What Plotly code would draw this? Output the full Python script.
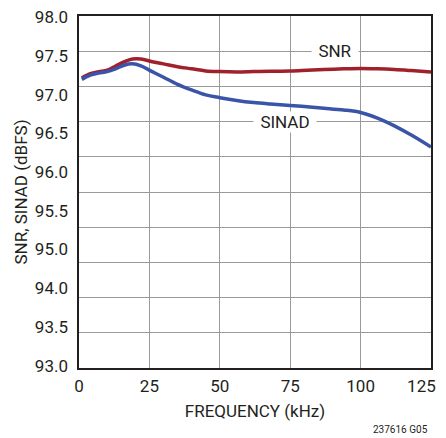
import plotly.graph_objects as go

freq_khz = [1, 4, 7, 10, 13, 16, 19, 22, 26, 30, 35, 40, 45, 50, 56, 62, 68, 75, 81, 87, 94, 100, 106, 112, 118, 125]
snr_dbfs = [97.12, 97.18, 97.21, 97.23, 97.29, 97.35, 97.39, 97.39, 97.35, 97.32, 97.28, 97.25, 97.22, 97.21,
            97.205, 97.21, 97.215, 97.22, 97.23, 97.24, 97.25, 97.255, 97.25, 97.24, 97.225, 97.205]
sinad_dbfs = [97.10, 97.16, 97.19, 97.21, 97.25, 97.30, 97.32, 97.29, 97.21, 97.13, 97.03, 96.95, 96.88, 96.84,
              96.80, 96.77, 96.75, 96.73, 96.71, 96.69, 96.665, 96.63, 96.55, 96.44, 96.31, 96.14]
x_ticks = [0, 25, 50, 75, 100, 125]
x_tick_labels = ["0", "25", "50", "75", "100", "125\u2007\u2007"]
y_grid = [93.0, 93.5, 94.0, 94.5, 95.0, 95.5, 96.0, 96.5, 97.0, 97.5, 98.0]
y_tick_labels = ["93.0", "93.5", "94.0", "95.0", "95.5", "96.0", "96.5", "97.0", "97.5", "98.0"]

FONT = "Roboto, Liberation Sans, sans-serif"
TXT = "#231f20"

fig = go.Figure()
fig.add_trace(go.Scatter(x=freq_khz, y=snr_dbfs, mode="lines", line=dict(color="#a0212b", width=3.5, shape="spline"),
                         showlegend=False, hoverinfo="skip"))
fig.add_trace(go.Scatter(x=freq_khz, y=sinad_dbfs, mode="lines", line=dict(color="#3a54a8", width=3.5, shape="spline"),
                         showlegend=False, hoverinfo="skip"))
# invisible trace to carry the printed y tick labels
fig.add_trace(go.Scatter(x=[None], y=[None], yaxis="y2", showlegend=False, hoverinfo="skip"))

fig.add_annotation(x=91, y=97.5, text="SNR", showarrow=False, bgcolor="white", width=44, height=18,
                   font=dict(family=FONT, size=17, color=TXT))
fig.add_annotation(x=73, y=96.5, text="SINAD", showarrow=False, bgcolor="white", width=60, height=18,
                   font=dict(family=FONT, size=17, color=TXT))
fig.add_annotation(x=1, y=0, xref="paper", yref="paper", xanchor="right", yanchor="middle", yshift=-61, xshift=-1,
                   text="237616 G05", showarrow=False, font=dict(family=FONT, size=10, color=TXT))

# the page body adds an 8px margin, so the figure is sized/offset for the 446x438 window
fig.update_layout(
    width=438, height=430,
    margin=dict(l=71, r=15, t=8, b=70, autoexpand=False),
    paper_bgcolor="white", plot_bgcolor="white",
    font=dict(family=FONT, size=17, color=TXT),
    xaxis=dict(range=[0, 125], tickvals=x_ticks, ticktext=x_tick_labels, showgrid=True, gridcolor="#9a9a9a",
               gridwidth=1.2, showline=True, linecolor="#231f20", linewidth=1.8, mirror=True, ticks="",
               zeroline=False, automargin=False, ticklabelstandoff=2, ticklabeloverflow="allow",
               title=dict(text="FREQUENCY (kHz)", font=dict(size=17), standoff=10),
               tickfont=dict(size=17)),
    yaxis=dict(range=[93, 98], tickvals=y_grid, showticklabels=False, showgrid=True, gridcolor="#9a9a9a",
               gridwidth=1.2, showline=True, linecolor="#231f20", linewidth=1.8, mirror=True, ticks="",
               zeroline=False, automargin=False),
    yaxis2=dict(overlaying="y", side="left", range=[-0.06, 9.03], tickvals=list(range(len(y_tick_labels))),
                ticktext=y_tick_labels, showgrid=False, zeroline=False, showline=False, ticks="",
                automargin=False, ticklabelstandoff=10, ticklabeloverflow="allow",
                tickfont=dict(size=17), title=dict(text="SNR, SINAD (dBFS)", font=dict(size=17), standoff=2)),
)

fig.write_html("out.html")
